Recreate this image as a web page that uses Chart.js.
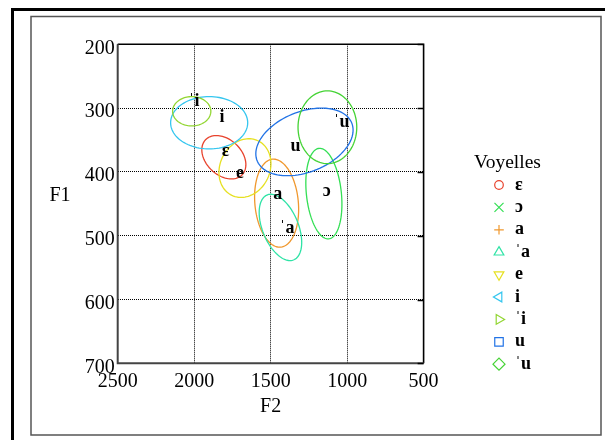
<!DOCTYPE html>
<html>
<head>
<meta charset="utf-8">
<script src="https://cdn.jsdelivr.net/npm/chart.js@4.4.1/dist/chart.umd.min.js"></script>
<style>
  html, body { margin: 0; padding: 0; background: #fff; }
  #wrap { width: 605px; height: 440px; }
</style>
</head>
<body>
<div id="wrap"><canvas id="vowelChart" width="605" height="440"></canvas></div>
<script>
Chart.defaults.animation = false;
Chart.defaults.font.family = '"Liberation Serif", "Times New Roman", serif';
Chart.defaults.color = '#000';

// vowels, in legend order
const vowels = ['ɛ', 'ɔ', 'a', 'ˈa', 'e', 'i', 'ˈi', 'u', 'ˈu'];

// label anchors (Hz)
const meanF2 = [1794, 1134, 1454, 1393, 1701, 1818, 2001, 1337, 1036];
const meanF1 = [375, 438, 442, 496, 410, 322, 296, 367, 330];

// dispersion ellipses: centre, half spread (Hz) and F2/F1 correlation
const ellF2 = [1806, 1152, 1461, 1436, 1668, 1902, 2016, 1279, 1129];
const ellF1 = [377, 434, 449, 487, 394, 323, 305, 353, 330];
const sprF2 = [144, 118, 144, 139, 170, 252, 125, 318, 192];
const sprF1 = [34, 71, 69, 52, 46, 41, 23, 53, 57];
const corr = [-0.34, -0.23, -0.14, -0.45, 0.15, 0, 0, 0.35, 0];

const xTicks = [2500, 2000, 1500, 1000, 500];
const yTicks = [200, 300, 400, 500, 600, 700];

// styles
const colors = ['#e8432d', '#34df55', '#f0982e', '#2fe3a6', '#e6e021', '#35c6ef', '#92d632', '#2273e6', '#45d335'];
const markers = [
  { pointStyle: 'circle', rotation: 0, radius: 4.3 },
  { pointStyle: 'crossRot', rotation: 0, radius: 6.4 },
  { pointStyle: 'cross', rotation: 0, radius: 4.8 },
  { pointStyle: 'triangle', rotation: 0, radius: 5.6 },
  { pointStyle: 'triangle', rotation: 180, radius: 5.6 },
  { pointStyle: 'triangle', rotation: 270, radius: 5.6 },
  { pointStyle: 'triangle', rotation: 90, radius: 5.6 },
  { pointStyle: 'rect', rotation: 0, radius: 6 },
  { pointStyle: 'rectRot', rotation: 0, radius: 6 }
];
const serif = '"Liberation Serif", "Times New Roman", serif';

const vowelSpace = {
  id: 'vowelSpace',
  afterDatasetsDraw(chart) {
    const { ctx, scales: { x, y } } = chart;
    ctx.save();
    // ellipses
    vowels.forEach((v, i) => {
      const cx = x.getPixelForValue(ellF2[i]);
      const cy = y.getPixelForValue(ellF1[i]);
      const dx = x.getPixelForValue(ellF2[i] + sprF2[i]) - cx;
      const dy = y.getPixelForValue(ellF1[i] + sprF1[i]) - cy;
      const r = corr[i], q = Math.sqrt(1 - r * r);
      ctx.beginPath();
      for (let k = 0; k <= 96; k++) {
        const t = k / 96 * Math.PI * 2;
        const px = cx + dx * Math.cos(t);
        const py = cy + dy * (r * Math.cos(t) + q * Math.sin(t));
        if (k === 0) ctx.moveTo(px, py); else ctx.lineTo(px, py);
      }
      ctx.closePath();
      ctx.strokeStyle = colors[i];
      ctx.lineWidth = 1.3;
      ctx.stroke();
    });
    // labels
    ctx.fillStyle = '#000';
    ctx.font = 'bold 18px ' + serif;
    ctx.textAlign = 'center';
    ctx.textBaseline = 'alphabetic';
    chart.data.datasets.forEach((ds) => {
      const p = ds.data[0];
      ctx.fillText(ds.label, x.getPixelForValue(p.x), y.getPixelForValue(p.y));
    });
    ctx.restore();
  },
  afterDraw(chart) {
    const { ctx, chartArea: a, scales: { y } } = chart;
    ctx.save();
    // plot frame
    ctx.lineWidth = 1.6;
    ctx.strokeStyle = '#000';
    ctx.beginPath();
    ctx.moveTo(a.left, a.top); ctx.lineTo(a.right, a.top); ctx.lineTo(a.right, a.bottom);
    ctx.stroke();
    ctx.strokeStyle = '#444';
    ctx.lineWidth = 2;
    ctx.beginPath();
    ctx.moveTo(a.right, a.bottom); ctx.lineTo(a.left, a.bottom); ctx.lineTo(a.left, a.top);
    ctx.stroke();
    // inner ticks on the right edge
    ctx.strokeStyle = '#000';
    ctx.lineWidth = 1.5;
    yTicks.forEach((v) => {
      const py = Math.round(y.getPixelForValue(v)) + 0.5;
      ctx.beginPath(); ctx.moveTo(a.right - 6, py); ctx.lineTo(a.right, py); ctx.stroke();
    });
    // axis titles
    ctx.fillStyle = '#000';
    ctx.font = '20px ' + serif;
    ctx.textAlign = 'center';
    ctx.textBaseline = 'alphabetic';
    ctx.fillText('F1', 60, 201);
    ctx.fillText('F2', (a.left + a.right) / 2, 411.5);
    // legend
    ctx.font = '19.5px ' + serif;
    ctx.fillText('Voyelles', 507.5, 167.5);
    ctx.textAlign = 'left';
    ctx.font = 'bold 18px ' + serif;
    chart.data.datasets.forEach((ds, i) => {
      const base = 189.5 + i * 22.4;
      ctx.strokeStyle = colors[i];
      ctx.fillStyle = 'rgba(0,0,0,0)';
      ctx.lineWidth = 1.2;
      Chart.helpers.drawPoint(ctx, { ...markers[i], borderWidth: 1.2 }, 499, base - 4.5);
      ctx.fillStyle = '#000';
      ctx.fillText(ds.label, 515, base);
    });
    // page frames
    ctx.strokeStyle = '#000';
    ctx.lineWidth = 3;
    ctx.strokeRect(12.5, 9.5, 700, 600);
    ctx.strokeStyle = '#555';
    ctx.lineWidth = 1.5;
    ctx.strokeRect(31, 16.5, 570, 418.5);
    ctx.restore();
  }
};

new Chart(document.getElementById('vowelChart'), {
  type: 'scatter',
  data: {
    datasets: vowels.map((v, i) => ({
      label: v,
      data: [{ x: meanF2[i], y: meanF1[i] }],
      borderColor: colors[i],
      backgroundColor: colors[i],
      pointStyle: markers[i].pointStyle,
      pointRadius: 0
    }))
  },
  options: {
    responsive: false,
    animation: false,
    layout: { padding: { left: 57.7, right: 181.4, top: 44.3, bottom: 36.7 } },
    plugins: { legend: { display: false }, tooltip: { enabled: false } },
    scales: {
      x: {
        type: 'linear',
        reverse: true,
        min: 500,
        max: 2500,
        afterBuildTicks: (s) => { s.ticks = xTicks.map((v) => ({ value: v })); },
        afterFit: (s) => { s.height = 40; },
        grid: { color: '#000', lineWidth: 1, drawTicks: false },
        border: { display: false, dash: [1, 1] },
        ticks: { padding: 6, font: { size: 20 }, color: '#000', callback: (v) => String(v) }
      },
      y: {
        type: 'linear',
        reverse: true,
        min: 200,
        max: 700,
        afterBuildTicks: (s) => { s.ticks = yTicks.map((v) => ({ value: v })); },
        afterFit: (s) => { s.width = 60; },
        grid: { color: '#000', lineWidth: 1, drawTicks: false },
        border: { display: false, dash: [1, 1] },
        ticks: { padding: 3, labelOffset: 4, font: { size: 20 }, color: '#000', callback: (v) => String(v) }
      }
    }
  },
  plugins: [vowelSpace]
});
</script>
</body>
</html>
